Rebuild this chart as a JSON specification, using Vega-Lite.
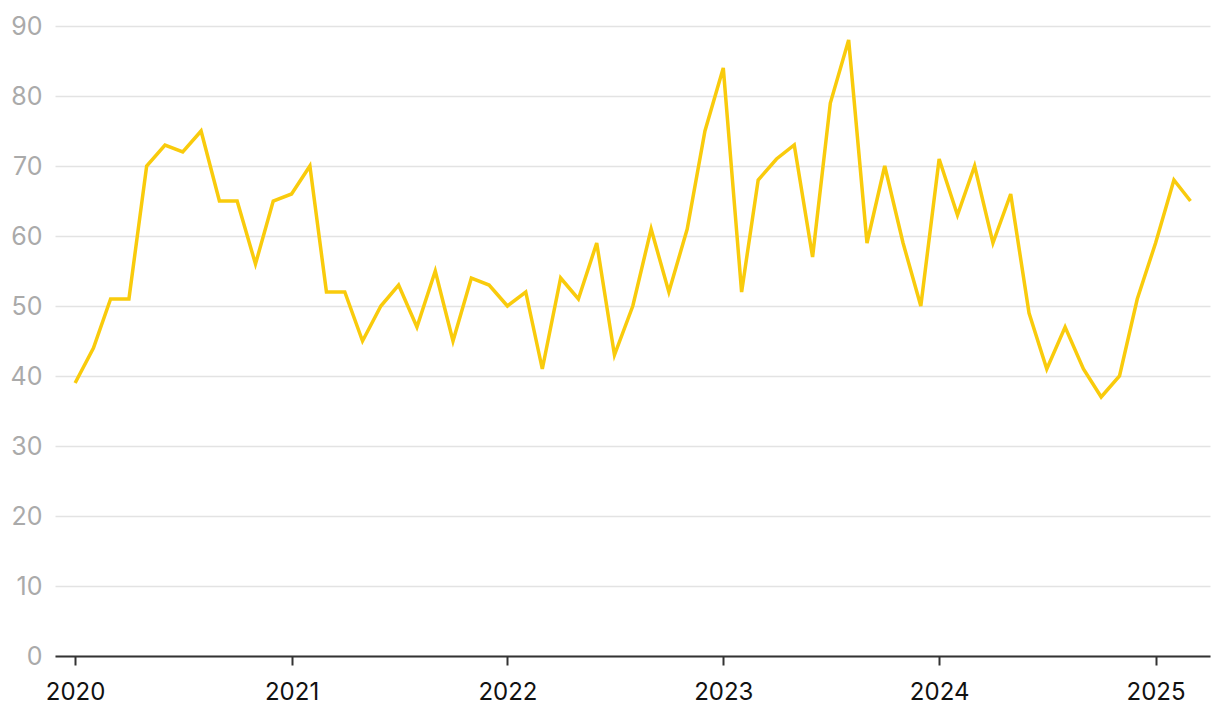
{
  "$schema": "https://vega.github.io/schema/vega-lite/v6.json",
  "width": 1155,
  "height": 630,
  "autosize": {"type": "none"},
  "padding": {"left": 55, "top": 26, "right": 10, "bottom": 64},
  "background": "#ffffff",
  "config": {
    "view": {"stroke": null},
    "font": "Inter"
  },
  "data": {
    "values": [
      {"date": "2020-01-01", "value": 39},
      {"date": "2020-02-01", "value": 44},
      {"date": "2020-03-01", "value": 51},
      {"date": "2020-04-01", "value": 51},
      {"date": "2020-05-01", "value": 70},
      {"date": "2020-06-01", "value": 73},
      {"date": "2020-07-01", "value": 72},
      {"date": "2020-08-01", "value": 75},
      {"date": "2020-09-01", "value": 65},
      {"date": "2020-10-01", "value": 65},
      {"date": "2020-11-01", "value": 56},
      {"date": "2020-12-01", "value": 65},
      {"date": "2021-01-01", "value": 66},
      {"date": "2021-02-01", "value": 70},
      {"date": "2021-03-01", "value": 52},
      {"date": "2021-04-01", "value": 52},
      {"date": "2021-05-01", "value": 45},
      {"date": "2021-06-01", "value": 50},
      {"date": "2021-07-01", "value": 53},
      {"date": "2021-08-01", "value": 47},
      {"date": "2021-09-01", "value": 55},
      {"date": "2021-10-01", "value": 45},
      {"date": "2021-11-01", "value": 54},
      {"date": "2021-12-01", "value": 53},
      {"date": "2022-01-01", "value": 50},
      {"date": "2022-02-01", "value": 52},
      {"date": "2022-03-01", "value": 41},
      {"date": "2022-04-01", "value": 54},
      {"date": "2022-05-01", "value": 51},
      {"date": "2022-06-01", "value": 59},
      {"date": "2022-07-01", "value": 43},
      {"date": "2022-08-01", "value": 50},
      {"date": "2022-09-01", "value": 61},
      {"date": "2022-10-01", "value": 52},
      {"date": "2022-11-01", "value": 61},
      {"date": "2022-12-01", "value": 75},
      {"date": "2023-01-01", "value": 84},
      {"date": "2023-02-01", "value": 52},
      {"date": "2023-03-01", "value": 68},
      {"date": "2023-04-01", "value": 71},
      {"date": "2023-05-01", "value": 73},
      {"date": "2023-06-01", "value": 57},
      {"date": "2023-07-01", "value": 79},
      {"date": "2023-08-01", "value": 88},
      {"date": "2023-09-01", "value": 59},
      {"date": "2023-10-01", "value": 70},
      {"date": "2023-11-01", "value": 59},
      {"date": "2023-12-01", "value": 50},
      {"date": "2024-01-01", "value": 71},
      {"date": "2024-02-01", "value": 63},
      {"date": "2024-03-01", "value": 70},
      {"date": "2024-04-01", "value": 59},
      {"date": "2024-05-01", "value": 66},
      {"date": "2024-06-01", "value": 49},
      {"date": "2024-07-01", "value": 41},
      {"date": "2024-08-01", "value": 47},
      {"date": "2024-09-01", "value": 41},
      {"date": "2024-10-01", "value": 37},
      {"date": "2024-11-01", "value": 40},
      {"date": "2024-12-01", "value": 51},
      {"date": "2025-01-01", "value": 59},
      {"date": "2025-02-01", "value": 68},
      {"date": "2025-03-01", "value": 65}
    ]
  },
  "mark": {"type": "line", "color": "#F9CB0C", "strokeWidth": 3.5, "strokeJoin": "miter", "strokeCap": "butt"},
  "encoding": {
    "x": {
      "field": "date",
      "type": "temporal",
      "scale": {"type": "utc", "domain": ["2019-11-28", "2025-04-03"], "nice": false},
      "axis": {
        "title": null,
        "format": "%Y",
        "formatType": "utc",
        "tickCount": {"interval": "year", "step": 1},
        "grid": false,
        "domainColor": "#333333",
        "domainWidth": 2,
        "tickColor": "#333333",
        "tickWidth": 2,
        "tickSize": 9,
        "labelColor": "#111111",
        "labelFont": "Inter",
        "labelFontSize": 24,
        "labelPadding": 15,
        "labelFlush": false
      }
    },
    "y": {
      "field": "value",
      "type": "quantitative",
      "scale": {"domain": [0, 90], "nice": false, "zero": true},
      "axis": {
        "title": null,
        "values": [0, 10, 20, 30, 40, 50, 60, 70, 80, 90],
        "grid": true,
        "gridColor": "#e3e3e3",
        "gridWidth": 1.5,
        "domain": false,
        "ticks": false,
        "labelColor": "#aaaaaa",
        "labelFont": "Inter",
        "labelFontSize": 25,
        "labelPadding": 13,
        "labelBaseline": "middle"
      }
    }
  }
}
